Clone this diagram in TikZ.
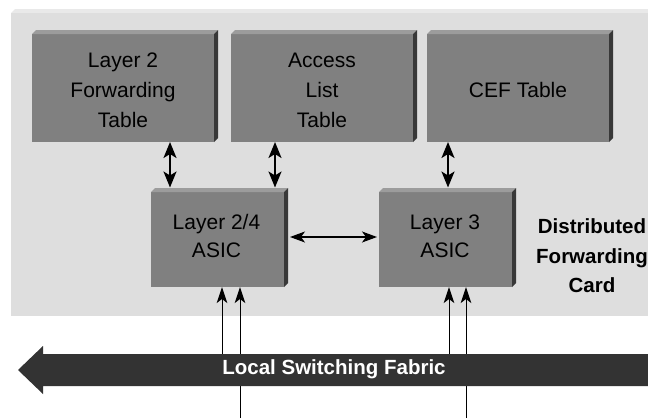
\documentclass[tikz,border=0pt]{standalone}
\usepackage{fontspec}
\setmainfont{Liberation Sans}
\usetikzlibrary{arrows.meta,calc}

\definecolor{panelfront}{HTML}{DEDEDE}
\definecolor{paneltop}{HTML}{E9E9E9}
\definecolor{boxfront}{HTML}{808080}
\definecolor{boxtop}{HTML}{9C9C9C}
\definecolor{boxside}{HTML}{383838}
\definecolor{fabriccol}{HTML}{333333}

\begin{document}
\begin{tikzpicture}[x=1pt,y=-1pt,
  face/.style={fill=boxfront, draw=none, inner sep=0pt, outer sep=0pt,
               minimum width=#1},
  boxtext/.style={inner sep=0pt, align=center, text=black,
                  font=\fontsize{21}{30}\selectfont},
  cardtext/.style={inner sep=0pt, align=center, text=black,
                   font=\fontsize{20.5}{29.5}\selectfont\bfseries},
  dbl/.style={{Stealth[length=16pt,width=13pt,inset=4pt]}-{Stealth[length=16pt,width=13pt,inset=4pt]}, line width=2pt},
  hdbl/.style={{Stealth[length=15pt,width=11pt,inset=4pt]}-{Stealth[length=15pt,width=11pt,inset=4pt]}, line width=1.2pt},
  uparrow/.style={-{Stealth[length=16pt,width=10.5pt,inset=4pt]}, line width=1pt}
]
\useasboundingbox (0,0) rectangle (648,418);

% card panel with its raised top edge
\fill[paneltop] (11,13) -- (15,9) -- (648,9) -- (648,13) -- cycle;
\fill[panelfront] (11,13) rectangle (648,316);

% front faces of the blocks
\node[face=182pt, minimum height=108pt] (l2tab)  at (123,88) {};
\node[face=182pt, minimum height=108pt] (acltab) at (322,88) {};
\node[face=182pt, minimum height=108pt] (ceftab) at (518,88) {};
\node[face=133pt, minimum height=95pt]  (asic24) at (217.5,239.5) {};
\node[face=133pt, minimum height=95pt]  (asic3)  at (445.5,239.5) {};

% bevelled top and dark right side of each block
\foreach \n in {l2tab,acltab,ceftab,asic24,asic3}{
  \fill[boxtop] (\n.north west) -- ++(4,-4) -- ($(\n.north east)+(4,-4)$) -- (\n.north east) -- cycle;
  \fill[boxside] (\n.north east) -- ++(4,-4) -- ($(\n.south east)+(4,-4)$) -- (\n.south east) -- cycle;
}

% block labels
\node[boxtext] (l2tabtxt)  at (123,90.5) {Layer 2\\Forwarding\\Table};
\node[boxtext] (acltabtxt) at (322,90.5) {Access\\List\\Table};
\node[boxtext] (ceftabtxt) at (518,90)   {CEF Table};
\node[boxtext, font=\fontsize{21}{28}\selectfont] (asic24txt) at (216.5,236) {Layer 2/4\\ASIC};
\node[boxtext, font=\fontsize{21}{28}\selectfont] (asic3txt)  at (445,236)   {Layer 3\\ASIC};

\node[cardtext] (cardtxt) at (592,256) {Distributed\\Forwarding\\Card};

% table <-> ASIC links
\coordinate (xa) at (170,0);
\coordinate (xb) at (275,0);
\coordinate (xc) at (448,0);
\coordinate (ya) at (0,237);
\draw[dbl, shorten >=4.5pt] (l2tab.south -| xa)  -- (asic24.north -| xa);
\draw[dbl, shorten >=4.5pt] (acltab.south -| xb) -- (asic24.north -| xb);
\draw[dbl, shorten >=4.5pt] (ceftab.south -| xc) -- (asic3.north -| xc);

% ASIC <-> ASIC link
\draw[hdbl, shorten <=6pt, shorten >=2pt] (asic24.east |- ya) -- (asic3.west |- ya);

% feeds from the switching fabric
\coordinate (f1) at (222,354);
\coordinate (f2) at (240,418);
\coordinate (f3) at (449,354);
\coordinate (f4) at (466,418);
\draw[uparrow] (f1) -- (f1 |- asic24.south);
\draw[uparrow] (f2) -- (f2 |- asic24.south);
\draw[uparrow] (f3) -- (f3 |- asic3.south);
\draw[uparrow] (f4) -- (f4 |- asic3.south);

% local switching fabric arrow
\fill[fabriccol] (18,370) -- (43,346) -- (43,354) -- (648,354) -- (648,386)
  -- (43,386) -- (43,394) -- cycle;
\node[inner sep=0pt, text=white, font=\fontsize{20.5}{24}\selectfont\bfseries]
  (fabrictxt) at (334,369.5) {Local Switching Fabric};
\end{tikzpicture}
\end{document}
